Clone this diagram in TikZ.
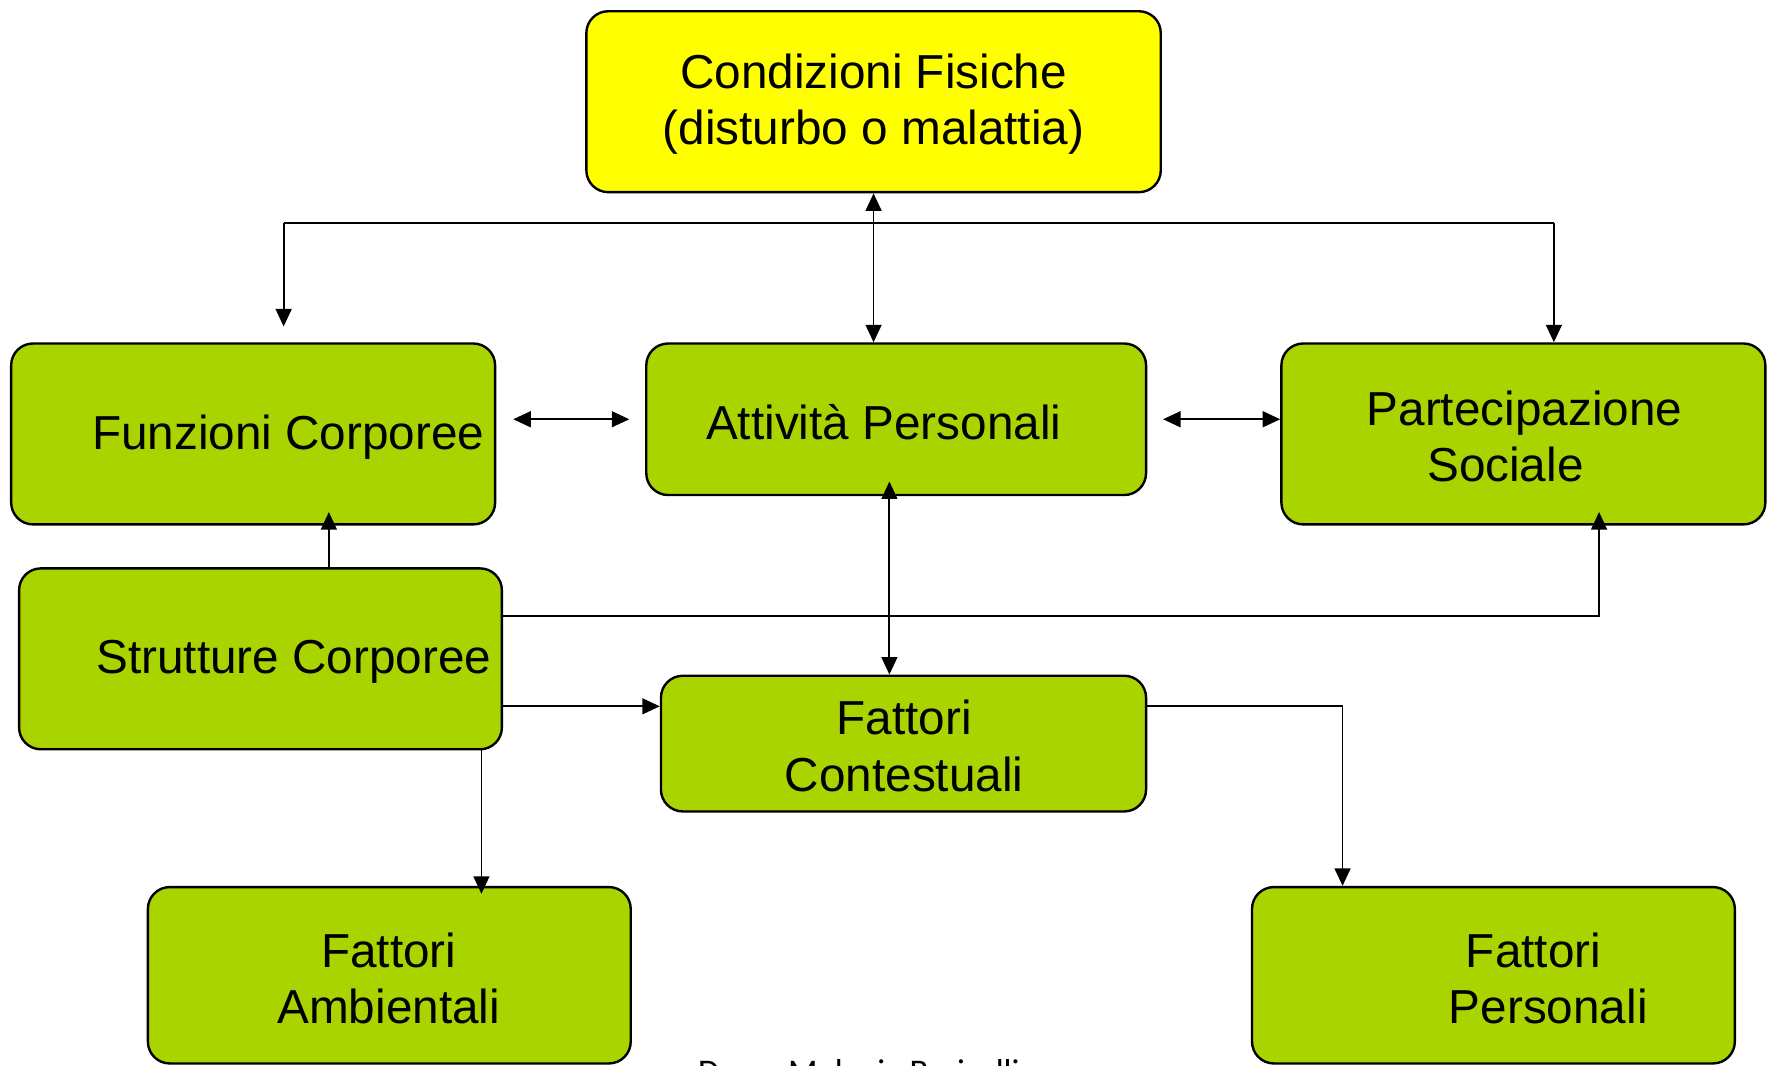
\documentclass[tikz,border=0pt]{standalone}
\usepackage{fontspec}
\setmainfont{Liberation Sans}
\newfontfamily\footfont{Carlito}
\usetikzlibrary{arrows.meta}
\definecolor{boxgreen}{RGB}{170,212,0}
\definecolor{boxyellow}{RGB}{255,255,0}
\begin{document}
\begin{tikzpicture}[x=0.01cm,y=-0.01cm,
  box/.style={draw=black, line width=0.6pt, rounded corners=5.5pt, inner sep=0pt, fill=boxgreen},
  lbl/.style={align=center, font=\fontsize{12}{14.2}\selectfont, inner sep=0pt},
  wire/.style={line width=0.45pt},
  conn/.style={line width=0.45pt, -{Triangle[length=4.4pt,width=4pt]}},
  dconn/.style={line width=0.45pt, {Triangle[length=4.4pt,width=4pt]}-{Triangle[length=4.4pt,width=4pt]}}]
\useasboundingbox (0,0) rectangle (1568,943);

% boxes
\node[box, fill=boxyellow, minimum width=5.08cm, minimum height=1.60cm] (cond) at (773,90) {};
\node[box, minimum width=4.28cm, minimum height=1.60cm] (funz) at (224,384) {};
\node[box, minimum width=4.42cm, minimum height=1.34cm] (att) at (793,371) {};
\node[box, minimum width=4.28cm, minimum height=1.60cm] (part) at (1348,384) {};
\node[box, minimum width=4.27cm, minimum height=1.60cm] (strut) at (230.5,583) {};
\node[box, minimum width=4.29cm, minimum height=1.20cm] (fctx) at (799.5,658) {};
\node[box, minimum width=4.27cm, minimum height=1.56cm] (amb) at (344.5,863) {};
\node[box, minimum width=4.27cm, minimum height=1.56cm] (pers) at (1321.5,863) {};

% labels
\node[lbl] (tcond) at (773,92) {Condizioni Fisiche\\(disturbo o malattia)};
\node[lbl] (tfunz) at (255,387) {Funzioni Corporee};
\node[lbl] (tatt) at (782,374) {Attività Personali};
\node[lbl] (tpart) at (1349,386) {Partecipazione\\\hspace*{-9.6pt}Sociale};
\node[lbl] (tstrut) at (260,586) {Strutture Corporee};
\node[lbl] (tfctx) at (800,660) {Fattori\\Contestuali};
\node[lbl] (tamb) at (344,866) {Fattori\\Ambientali};
\node[lbl] (tpers) at (1370,866) {\hspace*{-7.4pt}Fattori\\Personali};

% helper coordinates
\coordinate (busL) at (251,197);
\coordinate (busR) at (1375,197);
\coordinate (xd) at (291,0);
\coordinate (xe) at (1415,0);
\coordinate (xf) at (787,0);
\coordinate (xg) at (1188,0);
\coordinate (xh) at (426,0);
\coordinate (y545) at (0,545);
\coordinate (y625) at (0,625);

% connectors
\draw[wire] (busL) -- (busR);
\draw[conn, shorten >=0.14cm] (busL) -- (busL |- funz.north);
\draw[conn] (busR) -- (busR |- part.north);
\draw[dconn] (cond.south) -- (cond.south |- att.north);
\draw[dconn, shorten <=0.15cm, shorten >=0.14cm] (funz.east |- att.west) -- (att.west);
\draw[dconn, shorten <=0.14cm] (att.east) -- (att.east -| part.west);
\draw[conn, shorten >=-0.12cm] (strut.north -| xd) -- (funz.south -| xd);
\draw[conn, shorten >=-0.12cm] (strut.east |- y545) -| (part.south -| xe);
\draw[conn] (strut.east |- y625) -- (fctx.west |- y625);
\draw[dconn, shorten <=-0.13cm] (att.south -| xf) -- (fctx.north -| xf);
\draw[conn] (fctx.east |- y625) -| (pers.north -| xg);
\draw[conn, shorten >=-0.07cm] (strut.south -| xh) -- (amb.north -| xh);

% footer (cut off by the lower edge, as in the reference)
\node[font=\footfont\fontsize{8.7}{10}\selectfont, anchor=base west, inner sep=0pt] (foot) at (617,959) {Dr.ssa Melania Bariselli};
\end{tikzpicture}
\end{document}
